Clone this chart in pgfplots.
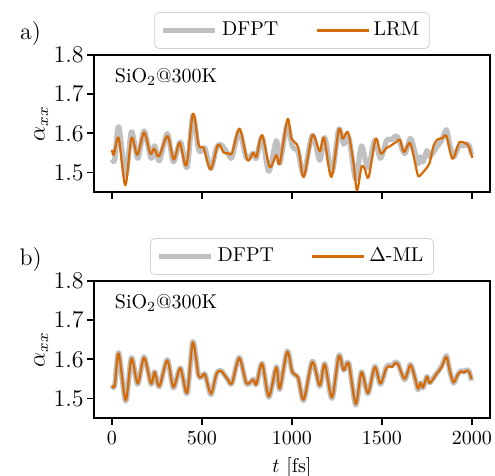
\documentclass[border=0pt]{standalone}
\usepackage{pgfplots}
\pgfplotsset{compat=1.18}
\definecolor{lrm}{RGB}{212,106,8}
\definecolor{dfpt}{RGB}{192,192,192}

\pgfplotstableread{
t v
0 1.533
15 1.533
37 1.617
76 1.493
108 1.604
143 1.536
178 1.606
217 1.536
237 1.568
263 1.530
307 1.599
341 1.527
380 1.578
417 1.512
449 1.645
480 1.560
500 1.556
517 1.561
550 1.510
580 1.562
606 1.571
645 1.547
667 1.539
707 1.605
747 1.537
784 1.549
802 1.536
834 1.590
871 1.503
913 1.581
932 1.523
973 1.621
1002 1.567
1034 1.552
1065 1.495
1113 1.595
1154 1.531
1182 1.589
1222 1.500
1260 1.610
1287 1.572
1315 1.591
1354 1.483
1386 1.568
1422 1.512
1460 1.582
1491 1.536
1524 1.580
1543 1.585
1556 1.583
1571 1.592
1589 1.589
1626 1.548
1658 1.587
1682 1.553
1700 1.522
1715 1.540
1728 1.527
1750 1.556
1765 1.540
1802 1.563
1830 1.581
1858 1.609
1876 1.571
1898 1.539
1922 1.562
1941 1.571
1955 1.567
1970 1.573
1985 1.568
1997 1.545
}\dfpttab

\pgfplotstableread{
t v
0 1.533
15 1.533
37 1.615
76 1.495
108 1.602
143 1.538
178 1.604
217 1.538
237 1.567
263 1.531
307 1.597
341 1.529
380 1.577
417 1.514
449 1.643
480 1.560
500 1.556
517 1.561
550 1.512
580 1.562
606 1.570
645 1.547
667 1.539
707 1.603
747 1.539
784 1.548
802 1.536
834 1.589
871 1.505
913 1.579
932 1.525
973 1.619
1002 1.567
1034 1.553
1065 1.497
1113 1.593
1154 1.533
1182 1.587
1222 1.502
1260 1.608
1287 1.572
1315 1.589
1354 1.486
1386 1.567
1422 1.514
1460 1.580
1491 1.538
1524 1.577
1543 1.582
1556 1.580
1571 1.589
1589 1.587
1626 1.550
1658 1.585
1682 1.555
1700 1.525
1715 1.540
1728 1.528
1750 1.556
1765 1.539
1802 1.562
1830 1.579
1858 1.606
1876 1.571
1898 1.541
1922 1.562
1941 1.569
1955 1.566
1970 1.571
1985 1.567
1997 1.550
}\dmltab

\pgfplotstableread{
t v
0 1.558
10 1.545
37 1.588
74 1.467
108 1.588
141 1.545
178 1.602
213 1.548
234 1.561
261 1.541
308 1.593
343 1.533
376 1.576
413 1.518
450 1.650
482 1.569
509 1.562
548 1.508
589 1.571
620 1.551
645 1.549
667 1.550
709 1.612
752 1.531
784 1.550
802 1.540
834 1.595
876 1.514
913 1.544
932 1.523
975 1.636
997 1.586
1034 1.565
1065 1.488
1113 1.595
1154 1.554
1178 1.588
1219 1.488
1260 1.609
1282 1.586
1311 1.603
1340 1.530
1361 1.454
1386 1.514
1404 1.509
1426 1.488
1465 1.586
1493 1.548
1524 1.562
1545 1.567
1560 1.572
1580 1.578
1599 1.584
1622 1.552
1654 1.576
1676 1.541
1700 1.492
1719 1.496
1747 1.511
1765 1.525
1787 1.569
1811 1.585
1835 1.587
1858 1.593
1891 1.535
1922 1.569
1932 1.578
1958 1.576
1975 1.571
1987 1.561
2002 1.537
}\lrmtab

\pgfplotsset{
  panel/.style={
    scale only axis, width=198pt, height=68.5pt,
    xmin=-100, xmax=2100, ymin=1.45, ymax=1.8,
    ytick={1.5,1.6,1.7,1.8},
    xtick={0,500,1000,1500,2000},
    yticklabel style={/pgf/number format/fixed,/pgf/number format/precision=1,/pgf/number format/fixed zerofill, font=\fontsize{12}{14}\selectfont, inner xsep=1.5pt},
    xticklabel style={/pgf/number format/1000 sep={}, font=\fontsize{10}{12}\selectfont},
    tick align=outside, tick pos=left,
    major tick length=3.5pt,
    axis line style={line width=0.8pt},
    every tick/.style={black, line width=0.8pt},
    ylabel={$\alpha_{xx}$},
    ylabel style={font=\fontsize{12}{14}\selectfont, inner sep=1pt},
    every axis x label/.style={at={(axis description cs:0.5,-0.365)},anchor=center,font=\fontsize{10}{12}\selectfont},
    legend columns=2,
    legend style={at={(0.5,1.045)}, anchor=south, draw=black!18, rounded corners=2pt,
      font=\fontsize{10}{12}\selectfont,
      /tikz/every even column/.append style={column sep=16.5pt},
      inner xsep=3pt, inner ysep=2.8pt},
    legend image code/.code={\path (0pt,0pt) -- (26pt,0pt);\draw[#1] (0pt,0pt) -- (23pt,0pt);},
    clip mode=individual,
  },
  dfptline/.style={color=dfpt, line width=2.6pt, line join=round, smooth, tension=0.5},
  orline/.style={color=lrm, line width=1.1pt, line join=round, smooth, tension=0.5},
}

\begin{document}
\begin{tikzpicture}
\path[use as bounding box] (-47pt,-142pt) rectangle (200.5pt,96pt);
\begin{axis}[panel, name=A, xticklabels={}]
\addplot[dfptline] table[x=t,y=v] {\dfpttab};
\addlegendentry{DFPT}
\addplot[orline] table[x=t,y=v] {\lrmtab};
\addlegendentry{LRM}
\node[anchor=west, font=\fontsize{10}{12}\selectfont] at (axis description cs:0.035,0.84) {SiO$_2$@300K};
\node[font=\fontsize{12}{14}\selectfont] at (axis description cs:-0.16,1.155) {a)};
\end{axis}
\begin{axis}[panel, name=B, at={(0,-113pt)}, xlabel={$t$ [fs]}]
\addplot[dfptline] table[x=t,y=v] {\dfpttab};
\addlegendentry{DFPT}
\addplot[orline] table[x=t,y=v] {\dmltab};
\addlegendentry{$\Delta$-ML}
\node[anchor=west, font=\fontsize{10}{12}\selectfont] at (axis description cs:0.035,0.84) {SiO$_2$@300K};
\node[font=\fontsize{12}{14}\selectfont] at (axis description cs:-0.16,1.16) {b)};
\end{axis}
\end{tikzpicture}
\end{document}
